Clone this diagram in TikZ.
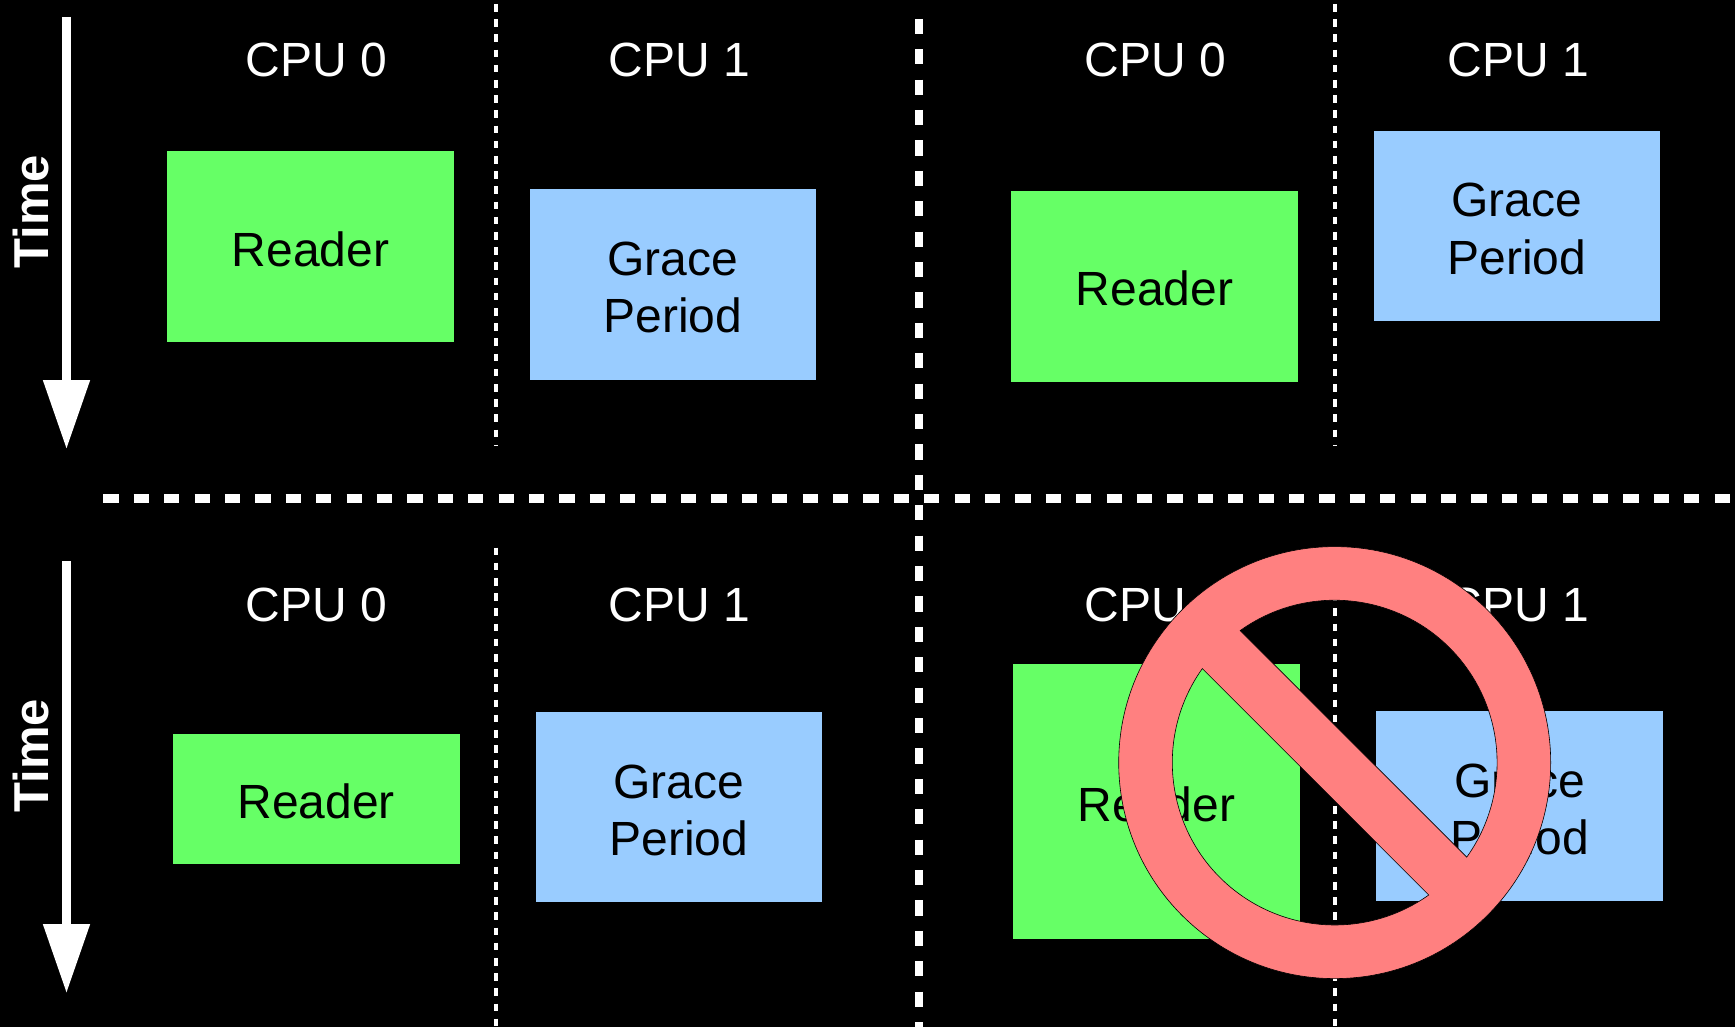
\documentclass[tikz,border=0pt]{standalone}
\usepackage{fontspec}
\setmainfont{Liberation Sans}
\usetikzlibrary{arrows.meta,calc}
\definecolor{rdgreen}{HTML}{66FF66}
\definecolor{gpblue}{HTML}{99CCFF}
\definecolor{banred}{HTML}{FF8080}
\tikzset{
  lbl/.style={font=\fontsize{48}{57.5}\selectfont,inner sep=0pt,align=center},
  cpulbl/.style={lbl,text=white},
  boxlbl/.style={lbl,draw=black,line width=0.4pt,text=black,anchor=north west,minimum width=287.8pt},
  boxa/.style={boxlbl,fill=rdgreen,execute at begin node={\rule{0pt}{40.4pt}}},
  boxb/.style={boxlbl,fill=gpblue,execute at begin node={\rule{0pt}{98.2pt}}},
  timelbl/.style={cpulbl,font=\fontsize{49}{57.5}\selectfont\bfseries,rotate=90},
  timearrow/.style={draw=white,line width=8.4pt,-{Triangle[length=69pt,width=45pt,fill=white]}},
  thindash/.style={draw=white,line width=4.3pt,dash pattern=on 7.6pt off 7.6pt},
  thickdash/.style={draw=white,line width=8.4pt,dash pattern=on 15.2pt off 15.2pt},
}
\begin{document}
\begin{tikzpicture}[x=1pt,y=1pt]
\fill[black,use as bounding box] (0,0) rectangle (1735,-1027);
% coordinates
\coordinate (a1s) at (66.5,-17);
\coordinate (a1e) at (66.5,-449);
\coordinate (a2s) at (66.5,-561);
\coordinate (a2e) at (66.5,-993);
\coordinate (t1s) at (495.7,-4);
\coordinate (t1e) at (495.7,-445.5);
\coordinate (t2s) at (1334.7,-4);
\coordinate (t2e) at (1334.7,-445.5);
\coordinate (t3s) at (495.7,-547.5);
\coordinate (t3e) at (495.7,-1027);
\coordinate (t4s) at (1334.7,-547.5);
\coordinate (t4e) at (1334.7,-1027);
\coordinate (hs) at (103.3,-498.5);
\coordinate (he) at (1735,-498.5);
\coordinate (vs) at (919,-18.8);
\coordinate (ve) at (919,-1027);
% separators
\draw[thindash] (t1s) -- (t1e);
\draw[thindash] (t2s) -- (t2e);
\draw[thindash] (t3s) -- (t3e);
\draw[thindash] (t4s) -- (t4e);
\draw[thickdash] (hs) -- (he);
\draw[thickdash] (vs) -- (ve);
% time arrows
\draw[timearrow] (a1s) -- (a1e);
\draw[timearrow] (a2s) -- (a2e);
\node[timelbl] (time1) at (31,-211.7) {Time};
\node[timelbl] (time2) at (31,-755.7) {Time};
% headers
\node[cpulbl] (h1) at (316.5,-60) {CPU 0};
\node[cpulbl] (h2) at (679.5,-60) {CPU 1};
\node[cpulbl] (h3) at (1155.5,-60) {CPU 0};
\node[cpulbl] (h4) at (1518.5,-60) {CPU 1};
\node[cpulbl] (h5) at (316.5,-604.5) {CPU 0};
\node[cpulbl] (h6) at (679.5,-604.5) {CPU 1};
\node[cpulbl] (h7) at (1155.5,-604.5) {CPU 0};
\node[cpulbl] (h8) at (1518.5,-604.5) {CPU 1};
% boxes
\node[boxa,minimum height=191.4pt] (r1) at (166.4,-150.4) {Reader};
\node[boxb,minimum height=191.4pt] (g1) at (528.6,-188.1) {Grace\\Period};
\node[boxa,minimum height=191.4pt] (r2) at (1010.3,-190.1) {Reader};
\node[boxb,minimum height=191.4pt] (g2) at (1372.6,-129.6) {Grace\\Period};
\node[boxa,minimum height=131.4pt] (r3) at (172.2,-732.8) {Reader};
\node[boxb,minimum height=191.4pt] (g3) at (534.6,-710.8) {Grace\\Period};
\node[boxa,minimum height=276.2pt] (r4) at (1012.4,-663.1) {Reader};
\node[boxb,minimum height=191.4pt] (g4) at (1375.4,-709.8) {Grace\\Period};
% prohibition sign
\coordinate (ban) at (1334.7,-762.6);
\path[fill=banred,draw=black,line width=0.6pt,even odd rule]
  (ban) circle[radius=216]
  ($(ban)+(125.6:162.4)$) arc[start angle=125.6,end angle=-35.6,radius=162.4] -- cycle
  ($(ban)+(144.6:162.4)$) arc[start angle=144.6,end angle=305.4,radius=162.4] -- cycle;
\end{tikzpicture}
\end{document}
